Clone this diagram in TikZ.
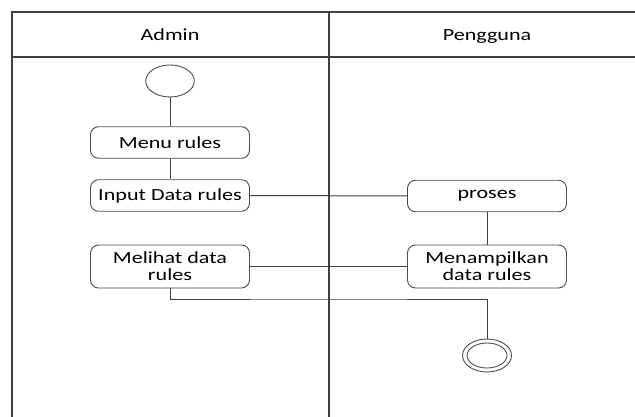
\documentclass[tikz,border=0pt]{standalone}
\usepackage{fontspec}
\setmainfont{Carlito}[FakeStretch=1.3]
\usetikzlibrary{shapes.geometric}

\begin{document}
\begin{tikzpicture}[x=1pt,y=-1pt,
  lane/.style={draw=black!75, line width=1.1pt},
  lanetitle/.style={anchor=base, font=\fontsize{17}{17.3}\selectfont},
  act/.style={draw=black!70, line width=0.9pt, rectangle, rounded corners=8pt,
    minimum width=159pt, minimum height=31.5pt, align=center, inner sep=2pt,
    font=\fontsize{17}{17.3}\selectfont},
  pseudostate/.style={ellipse, draw=black!70, line width=0.9pt, inner sep=0pt, outer sep=0pt},
  flow/.style={draw=black!75, line width=1pt}]

  % canvas
  \fill[white] (0,0) rectangle (635,417);
  \useasboundingbox (0,0) rectangle (635,417);

  % swimlanes
  \draw[lane] (12,417) -- (12,12) -- (635,12);
  \draw[lane] (12,57) -- (635,57);
  \draw[lane] (329,12) -- (329,417);
  \node[lanetitle] (tadmin) at (170,40.7) {Admin};
  \node[lanetitle] (tuser) at (487,40.7) {Pengguna};

  % activities
  \node[pseudostate, minimum width=48.6pt, minimum height=32pt] (start) at (170,81) {};
  \node[act] (menu) at (170,142.5) {Menu rules};
  \node[act] (input) at (170,195.5) {Input Data rules};
  \node[act] (proses) at (487,196) {proses};
  \node[act, minimum height=43pt] (lihat) at (170,266.5) {Melihat data\\rules};
  \node[act, minimum height=43pt] (tampil) at (487,266.5) {Menampilkan\\data rules};
  \node[pseudostate, minimum width=49pt, minimum height=33pt] (end) at (487,355.5) {};
  \draw[black!70, line width=0.9pt] (end.center) ellipse [x radius=20pt, y radius=12.5pt];
  \coordinate (jn) at (329,299);

  % flows
  \draw[flow] (start) -- (menu);
  \draw[flow] (menu) -- (input);
  \draw[flow] (input) -- (proses);
  \draw[flow] (proses) -- (tampil);
  \draw[flow] (lihat) -- (tampil);
  \draw[flow] (lihat.south) |- (jn) -| (end.north);
\end{tikzpicture}
\end{document}
